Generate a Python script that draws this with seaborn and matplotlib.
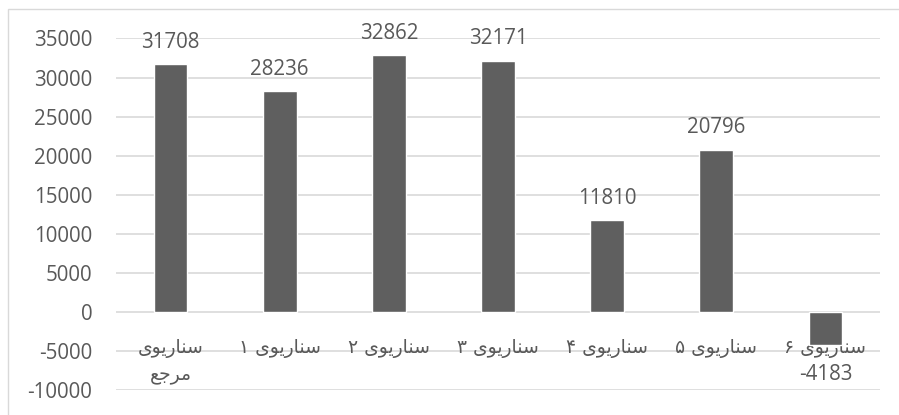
import matplotlib
matplotlib.use("Agg")
import matplotlib.pyplot as plt
import seaborn as sns
import pandas as pd
from matplotlib.patches import Rectangle

# ---- data ----
categories = ["سناریوی\nمرجع", "سناریوی ۱", "سناریوی ۲", "سناریوی ۳",
              "سناریوی ۴", "سناریوی ۵", "سناریوی ۶"]
values = [31708, 28236, 32862, 32171, 11810, 20796, -4183]
y_ticks = [-10000, -5000, 0, 5000, 10000, 15000, 20000, 25000, 30000, 35000]

# ---- minimal Arabic/Persian shaping (matplotlib has no text shaping) ----
FORMS = {  # isolated, final, initial, medial
    "س": ("\uFEB1", "\uFEB2", "\uFEB3", "\uFEB4"),
    "ن": ("\uFEE5", "\uFEE6", "\uFEE7", "\uFEE8"),
    "ی": ("\uFBFC", "\uFBFD", "\uFBFE", "\uFBFF"),
    "م": ("\uFEE1", "\uFEE2", "\uFEE3", "\uFEE4"),
    "ج": ("\uFE9D", "\uFE9E", "\uFE9F", "\uFEA0"),
    "ع": ("\uFEC9", "\uFECA", "\uFECB", "\uFECC"),
    "ا": ("\uFE8D", "\uFE8E", None, None),
    "ر": ("\uFEAD", "\uFEAE", None, None),
    "و": ("\uFEED", "\uFEEE", None, None),
}


def dual(c):
    return c in FORMS and FORMS[c][2] is not None


def shape_line(s):
    out = []
    for i, c in enumerate(s):
        if c not in FORMS:
            out.append(c)
            continue
        prev = s[i - 1] if i > 0 else ""
        nxt = s[i + 1] if i + 1 < len(s) else ""
        join_prev = dual(prev)
        join_next = dual(c) and nxt in FORMS
        f = FORMS[c]
        if join_prev and join_next:
            out.append(f[3])
        elif join_prev:
            out.append(f[1])
        elif join_next:
            out.append(f[2])
        else:
            out.append(f[0])
    # visual order (right-to-left); keep digit runs in order
    runs, cur = [], ""
    for ch in out:
        if ch.isdigit():
            cur += ch
        else:
            if cur:
                runs.append(cur)
                cur = ""
            runs.append(ch)
    if cur:
        runs.append(cur)
    return "".join(reversed(runs))


def rtl(s):
    return "\n".join(shape_line(line) for line in s.split("\n"))


# ---- figure ----
W, H, DPI = 899, 415, 100
fig = plt.figure(figsize=(W / DPI, H / DPI), dpi=DPI)
sns.set_style("white")
plt.rcParams["font.family"] = ["Open Sans", "DejaVu Sans"]

TXT = "#595959"
GRID = "#d9d9d9"
BAR = "#5f5f5f"

# outer chart frame
fig.patches.append(Rectangle((8.3 / W, -0.2), 1.2, 1 - 9.3 / H + 0.2,
                             transform=fig.transFigure, fill=False,
                             edgecolor=GRID, linewidth=1.0))

left, right = 116 / W, 880 / W
top, bottom = 1 - 38.4 / H, 1 - 390.4 / H
ax = fig.add_axes([left, bottom, right - left, top - bottom])

df = pd.DataFrame({"cat": categories, "val": values})
sns.barplot(data=df, x="cat", y="val", color=BAR, saturation=1,
            width=0.31, ax=ax, errorbar=None, zorder=3)

ax.set_ylim(y_ticks[0], y_ticks[-1])
ax.set_xlim(-0.5, len(categories) - 0.5)
ax.set_yticks(y_ticks)
ax.set_yticklabels([str(v) for v in y_ticks], fontsize=14.8, color=TXT)
ax.tick_params(axis="y", length=0, pad=17)
ax.set_xticks([])
ax.set_xlabel("")
ax.set_ylabel("")
for sp in ax.spines.values():
    sp.set_visible(False)
ax.yaxis.grid(True, color=GRID, linewidth=1.2, zorder=0)
ax.set_axisbelow(True)

# data labels (positive above, negative below with more room)
cont = ax.containers[0]
ax.bar_label(cont, labels=[str(v) if v >= 0 else "" for v in values],
             padding=8, fontsize=14.8, color=TXT)
ax.bar_label(cont, labels=[str(v) if v < 0 else "" for v in values],
             padding=14, fontsize=14.8, color=TXT)

# category labels
for i, c in enumerate(categories):
    ax.annotate(rtl(c), xy=(i, 0), xytext=(0, -27), textcoords="offset pixels",
                ha="center", va="top", fontsize=13.5, color=TXT,
                family=["DejaVu Sans"], linespacing=1.45, annotation_clip=False,
                zorder=2)

fig.savefig("out.png", dpi=DPI)
